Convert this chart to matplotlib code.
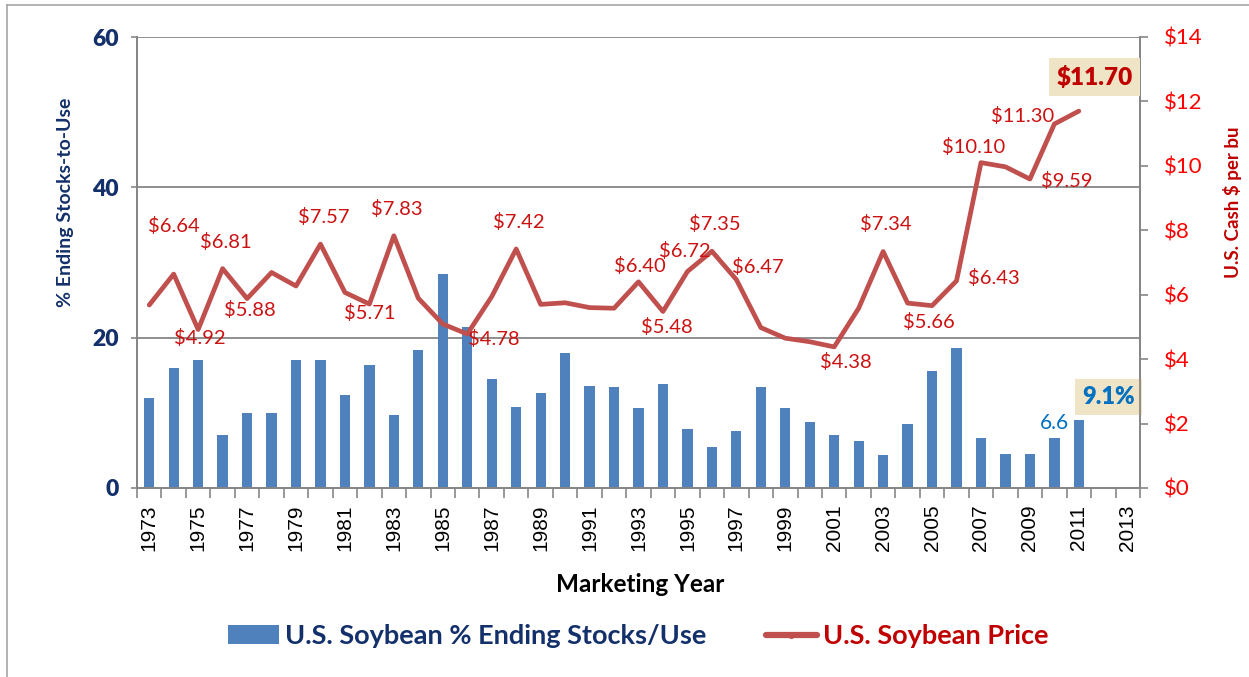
import matplotlib
matplotlib.use("Agg")
import matplotlib.pyplot as plt
from matplotlib.lines import Line2D
from matplotlib.patches import Patch
import numpy as np

# ---------------- data ----------------
years = list(range(1973, 2014))
stocks_years = list(range(1973, 2012))
stocks_use = [12.0, 16.0, 17.0, 7.0, 10.0, 10.0, 17.0, 17.0, 12.4, 16.4,
              9.7, 18.4, 28.5, 21.4, 14.5, 10.8, 12.7, 17.9, 13.6, 13.4,
              10.6, 13.9, 7.8, 5.4, 7.6, 13.4, 10.6, 8.8, 7.0, 6.3,
              4.4, 8.5, 15.6, 18.6, 6.7, 4.5, 4.5, 6.6, 9.1]
price = [5.68, 6.64, 4.92, 6.81, 5.88, 6.69, 6.27, 7.57, 6.07, 5.71,
         7.83, 5.89, 5.09, 4.78, 5.94, 7.42, 5.70, 5.75, 5.60, 5.58,
         6.40, 5.48, 6.72, 7.35, 6.47, 4.98, 4.65, 4.54, 4.38, 5.58,
         7.34, 5.74, 5.66, 6.43, 10.10, 9.97, 9.59, 11.30, 11.70]
labeled_years = [1974, 1975, 1976, 1977, 1980, 1982, 1983, 1986, 1988, 1993,
                 1994, 1995, 1996, 1997, 2001, 2003, 2005, 2006, 2007, 2009, 2010]
tick_years = list(range(1973, 2014, 2))
left_ticks = [0, 20, 40, 60]
right_ticks = [0, 2, 4, 6, 8, 10, 12, 14]

# label offsets (pixels) relative to the data point
label_offsets = {1974: (0, 48), 1975: (2, -8), 1976: (3, 27), 1977: (3, -11),
                 1980: (3, 27), 1982: (0, -9), 1983: (3, 27), 1986: (27, -5),
                 1988: (3, 27), 1993: (1, 16), 1994: (4, -16), 1995: (-3, 21),
                 1996: (3, 27), 1997: (21, 13), 2001: (12, -15), 2003: (3, 28),
                 2005: (-3, -16), 2006: (37, 3), 2007: (-7, 16), 2009: (37, -2),
                 2010: (-32, 8)}

NAVY = "#13306A"
BAR = "#4F81BD"
LINE = "#C0504D"
DRED = "#C00000"
LBL = "#CC1111"
GRID = "#868686"
FONT = ["Lato", "DejaVu Sans"]

plt.rcParams["font.family"] = FONT

W, H = 1249, 677
fig = plt.figure(figsize=(W / 100, H / 100), dpi=100)
L, R, T, B = 137, 1140, 37, 488
ax = fig.add_axes([L / W, 1 - B / H, (R - L) / W, (B - T) / H])
ax2 = ax.twinx()

xb = np.array([years.index(y) for y in stocks_years])

ax.bar(xb, stocks_use, width=0.42, color=BAR, zorder=2)
ax.set_ylim(0, 60)
ax.set_xlim(-0.5, len(years) - 0.5)
ax.set_axisbelow(True)
for v in [20, 40, 60]:
    ax.axhline(v, color=GRID, lw=1.3, zorder=0)

ax2.plot(xb, price, color=LINE, lw=3.4, solid_joinstyle="round",
         solid_capstyle="round", zorder=3)
ax2.set_ylim(0, 14)

# spines
for a in (ax, ax2):
    a.spines["top"].set_visible(False)
    for s in ("left", "right", "bottom"):
        a.spines[s].set_color(GRID)
        a.spines[s].set_linewidth(1.3)

# left ticks
ax.set_yticks(left_ticks)
ax.set_yticklabels([str(v) for v in left_ticks])
ax.tick_params(axis="y", direction="out", length=4, width=1.2, color=GRID,
               pad=9, labelsize=16.5, labelcolor=NAVY)
for t in ax.get_yticklabels():
    t.set_fontweight("heavy")

# right ticks
ax2.set_yticks(right_ticks)
ax2.set_yticklabels([f"${v}" for v in right_ticks])
ax2.tick_params(axis="y", direction="out", length=6, width=1.2, color=GRID,
                pad=11, labelsize=16, labelcolor="#FF0000")

# x ticks
ax.set_xticks([years.index(y) for y in tick_years])
ax.set_xticklabels([str(y) for y in tick_years], rotation=90,
                   fontsize=15, family=["Liberation Sans", "DejaVu Sans"])
ax.set_xticks(np.arange(-0.5, len(years), 1.0), minor=True)
ax.tick_params(axis="x", which="major", length=0, pad=12, labelcolor="black")
ax.tick_params(axis="x", which="minor", length=7, width=1.2, color=GRID,
               direction="out")

# price data labels
for y in labeled_years:
    i = stocks_years.index(y)
    dx, dy = label_offsets[y]
    ax2.annotate(f"${price[i]:.2f}", (xb[i], price[i]), xytext=(dx, dy),
                 textcoords="offset pixels", ha="center", va="center",
                 fontsize=14.5, color=LBL, zorder=5)

# highlighted last price
ax2.annotate(f"${price[-1]:.2f}", (xb[-1], price[-1]), xytext=(16, 34),
             textcoords="offset pixels", ha="center", va="center",
             fontsize=17.5, fontweight="heavy", color=DRED, zorder=6,
             bbox=dict(boxstyle="square,pad=0.3", fc="#F0E4C6", ec="none"))

# stocks labels
ax.annotate(f"{stocks_use[-2]:.1f}", (xb[-2], stocks_use[-2]), xytext=(0, 15),
            textcoords="offset pixels", ha="center", va="center",
            fontsize=15, color="#0070C0", zorder=5)
ax.annotate(f"{stocks_use[-1]:.1f}%", (xb[-1], stocks_use[-1]), xytext=(30, 23),
            textcoords="offset pixels", ha="center", va="center",
            fontsize=17, fontweight="heavy", color="#0070C0", zorder=6,
            bbox=dict(boxstyle="square,pad=0.3", fc="#F0E4C6", ec="none"))

# axis titles
fig.text(66 / W, 1 - 202 / H, "% Ending Stocks-to-Use", rotation=90,
         ha="center", va="center", fontsize=14, fontweight="bold", color=NAVY)
fig.text(1232 / W, 1 - 202 / H, "U.S. Cash $ per bu", rotation=90,
         ha="center", va="center", fontsize=13.5, fontweight="bold", color=DRED)
fig.text(640 / W, 1 - 584 / H, "Marketing Year", ha="center", va="center",
         fontsize=17.5, fontweight="bold", color="black")

# legend
handles = [Patch(facecolor=BAR, edgecolor="none"),
           Line2D([0], [0], color=LINE, lw=4.5, marker="o", markersize=4,
                  solid_capstyle="round")]
leg = fig.legend(handles, ["U.S. Soybean % Ending Stocks/Use", "U.S. Soybean Price"],
                 loc="center", bbox_to_anchor=(638 / W, 1 - 636 / H), ncol=2,
                 frameon=False, prop=dict(family=FONT, weight="bold", size=19.5),
                 handlelength=1.9, handleheight=0.7, handletextpad=0.2,
                 columnspacing=2.2)
for txt, c in zip(leg.get_texts(), [NAVY, DRED]):
    txt.set_color(c)

# outer frame
fig.add_artist(Line2D([7 / W, 7 / W], [0, 1 - 5 / H], color="#A6A6A6", lw=1.2,
                      transform=fig.transFigure))
fig.add_artist(Line2D([7 / W, 1], [1 - 5 / H, 1 - 5 / H], color="#A6A6A6", lw=1.2,
                      transform=fig.transFigure))

fig.savefig("out.png", dpi=100)
